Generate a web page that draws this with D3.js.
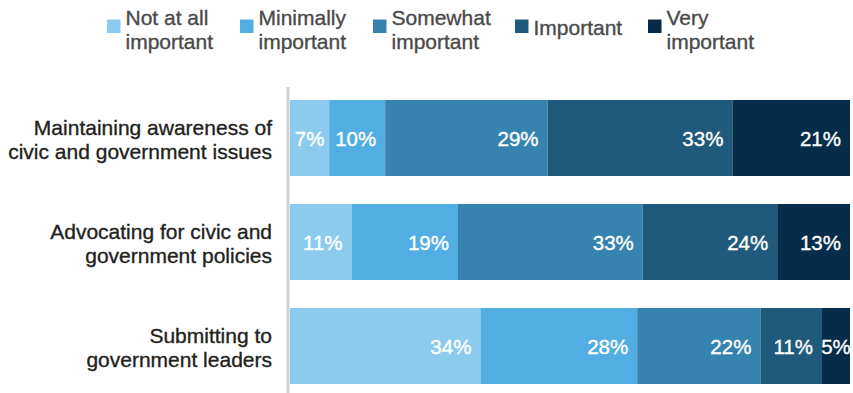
<!DOCTYPE html>
<html>
<head>
<meta charset="utf-8">
<script src="https://cdn.jsdelivr.net/npm/d3@7"></script>
<style>
  html, body { margin: 0; padding: 0; background: #fff; }
  svg { display: block; font-family: "Liberation Sans", Arial, sans-serif; }
</style>
</head>
<body>
<svg id="chart" width="853" height="393"></svg>
<script>
// ---- data ----
const categories = [
  "Maintaining awareness of civic and government issues",
  "Advocating for civic and government policies",
  "Submitting to government leaders"
];
const categoryLines = [
  ["Maintaining awareness of", "civic and government issues"],
  ["Advocating for civic and", "government policies"],
  ["Submitting to", "government leaders"]
];
const seriesNames = ["Not at all important", "Minimally important", "Somewhat important", "Important", "Very important"];
const legendLines = [["Not at all", "important"], ["Minimally", "important"], ["Somewhat", "important"], ["Important"], ["Very", "important"]];
const notAtAll   = [7, 11, 34];
const minimally  = [10, 19, 28];
const somewhat   = [29, 33, 22];
const important  = [33, 24, 11];
const veryImp    = [21, 13, 5];
const colors = ["#8ccbed", "#52aee2", "#3783b0", "#1f5a7d", "#052d4a"];

// ---- layout ----
const W = 853, H = 393;
const svg = d3.select("#chart");
const seriesValues = [notAtAll, minimally, somewhat, important, veryImp];

const rows = categories.map((c, i) => {
  const r = { category: c };
  seriesNames.forEach((s, j) => r[s] = seriesValues[j][i]);
  return r;
});
const stacked = d3.stack().keys(seriesNames)(rows);

const x = d3.scaleLinear().domain([0, 100]).range([290, 850]);
const y = d3.scaleBand().domain(categories).range([100, 384]).paddingInner(28 / 104).paddingOuter(0);

// axis line
svg.append("line")
  .attr("x1", 288).attr("x2", 288)
  .attr("y1", 87).attr("y2", H)
  .attr("stroke", "#d2d2d2").attr("stroke-width", 3);

// bars
const groups = svg.selectAll("g.series").data(stacked).enter().append("g")
  .attr("class", "series")
  .attr("fill", (d, i) => colors[i]);

groups.selectAll("rect").data(d => d).enter().append("rect")
  .attr("x", d => x(d[0]))
  .attr("y", d => y(d.data.category))
  .attr("width", d => x(d[1]) - x(d[0]))
  .attr("height", y.bandwidth());

// value labels
const valFont = 20.5, pad = 9;
groups.selectAll("text").data(d => d.map(v => ({ v, key: d.key }))).enter().append("text")
  .attr("y", d => y(d.v.data.category) + y.bandwidth() / 2 + 7.5)
  .attr("fill", "#fff")
  .attr("stroke", "#fff")
  .attr("stroke-width", 0.35)
  .attr("font-size", valFont)
  .text(d => (d.v[1] - d.v[0]) + "%")
  .each(function(d) {
    const w = this.getComputedTextLength();
    const x0 = x(d.v[0]), x1 = x(d.v[1]);
    const sel = d3.select(this);
    if (x1 - x0 - pad - 4 >= w) {
      sel.attr("x", x1 - pad).attr("text-anchor", "end");
    } else {
      sel.attr("x", (x0 + x1) / 2).attr("text-anchor", "middle");
    }
  });

// category labels
categories.forEach((c, i) => {
  const cy = y(c) + y.bandwidth() / 2;
  const t = svg.append("text")
    .attr("text-anchor", "end")
    .attr("fill", "#231f20")
    .attr("stroke", "#231f20")
    .attr("stroke-width", 0.35)
    .attr("font-size", 21);
  categoryLines[i].forEach((line, k) => {
    t.append("tspan")
      .attr("x", 272)
      .attr("y", cy - 3 + k * 23.5)
      .text(line);
  });
});

// legend
const legendX = [107, 240, 373, 515, 648];
seriesNames.forEach((s, i) => {
  const g = svg.append("g").attr("transform", `translate(${legendX[i]},0)`);
  g.append("rect").attr("x", 0).attr("y", 19.5).attr("width", 13.5).attr("height", 13.5).attr("fill", colors[i]);
  const lines = legendLines[i];
  const t = g.append("text")
    .attr("fill", "#4a4a4a")
    .attr("stroke", "#4a4a4a")
    .attr("stroke-width", 0.35)
    .attr("font-size", 21);
  lines.forEach((line, k) => {
    const by = lines.length === 1 ? 35 : 25 + k * 23.5;
    t.append("tspan").attr("x", 18.5).attr("y", by).text(line);
  });
});
</script>
</body>
</html>
